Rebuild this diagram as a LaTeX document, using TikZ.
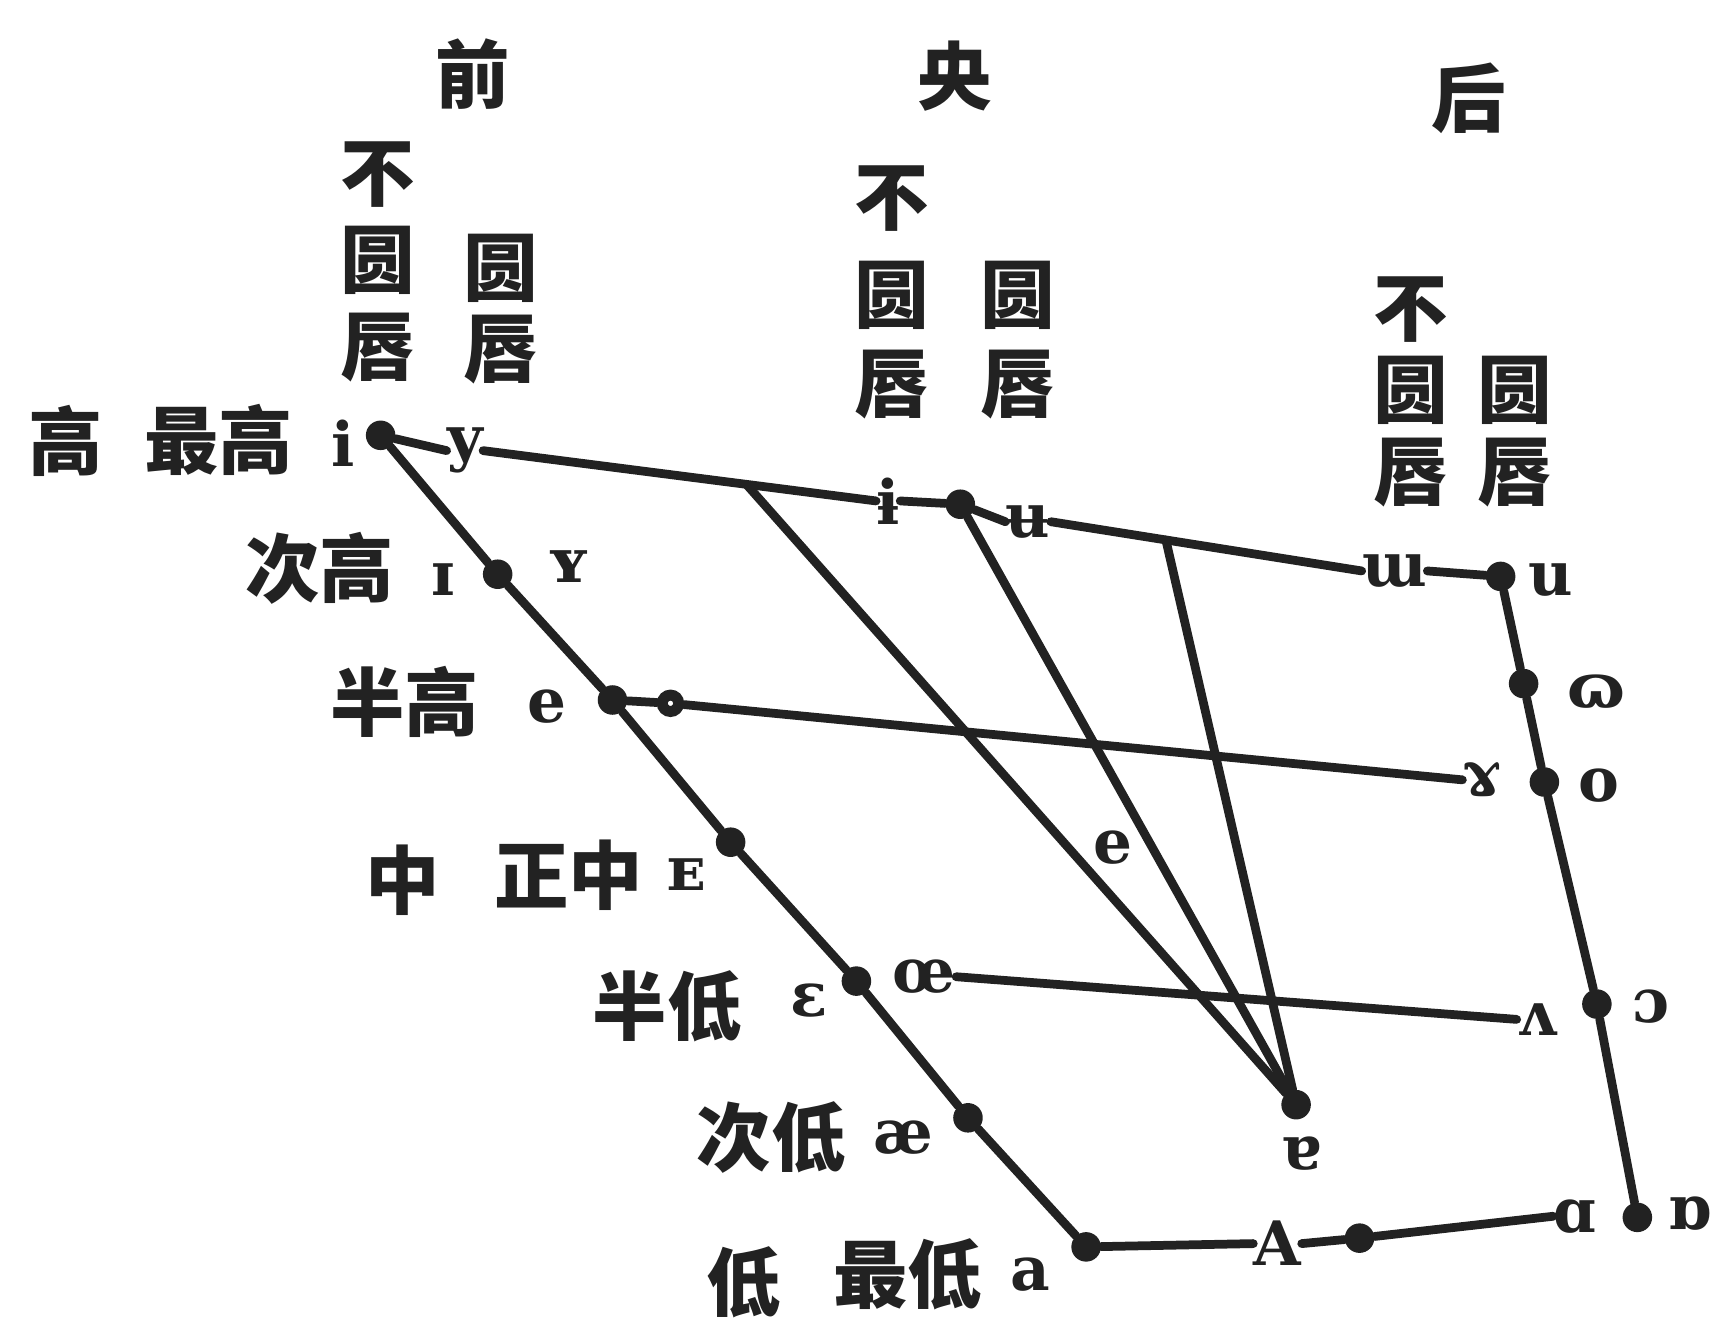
\documentclass[tikz,border=0pt]{standalone}
\usepackage{fontspec}
\newfontfamily\cjk{Noto Sans CJK SC}
\newfontfamily\ipa{DejaVu Serif}
\usetikzlibrary{calc}
\definecolor{ink}{HTML}{222222}
\begin{document}
\begin{tikzpicture}[x=0.5pt,y=-0.5pt,
  hd/.style={font=\cjk\bfseries\fontsize{34}{34}\selectfont, inner sep=0pt, text=ink},
  hz/.style={font=\cjk\bfseries\fontsize{34}{34}\selectfont, inner sep=0pt, text=ink},
  ip/.style={font=\ipa\bfseries\fontsize{28}{28}\selectfont, inner sep=0pt, text=ink},
  vdot/.style={circle, fill=ink, inner sep=0pt, minimum size=13.5pt},
  ring/.style={circle, draw=ink, line width=5pt, inner sep=0pt, minimum size=7.5pt},
  ln/.style={line width=4pt, draw=ink, line cap=round}]
\useasboundingbox (0,0) rectangle (1568,1210);
% headers
\node[hd] (hF) at (432,68) {前};
\node[hd] (hC) at (873,70) {央};
\node[hd] (hB) at (1343,90) {后};
% front lip columns
\node[hz] (f1) at (345,160) {不};
\node[hz] (f2) at (345,238) {圆};
\node[hz] (f3) at (345,318) {唇};
\node[hz] (f4) at (458,245) {圆};
\node[hz] (f5) at (458,320) {唇};
% central
\node[hz] (c1) at (815,182) {不};
\node[hz] (c2) at (815,270) {圆};
\node[hz] (c3) at (815,352) {唇};
\node[hz] (c4) at (930,270) {圆};
\node[hz] (c5) at (930,352) {唇};
% back
\node[hz] (b1) at (1290,283) {不};
\node[hz] (b2) at (1290,357) {圆};
\node[hz] (b3) at (1290,432) {唇};
\node[hz] (b4) at (1385,357) {圆};
\node[hz] (b5) at (1385,432) {唇};
% row labels
\node[hz] (r1) at (60,403) {高};
\node[hz] (r2) at (200,402) {最高};
\node[hz] (r3) at (292,520) {次高};
\node[hz] (r4) at (370,642) {半高};
\node[hz] (r5) at (368,805) {中};
\node[hz] (r6) at (520,800) {正中};
\node[hz] (r7) at (610,920) {半低};
\node[hz] (r8) at (705,1040) {次低};
\node[hz] (r9) at (680,1172) {低};
\node[hz] (r10) at (830,1165) {最低};
% front IPA labels
\node[ip] (li) at (314,405) {i};
\node[ip] (lI) at (405,530) {ɪ};
\node[ip] (lyy) at (520,518) {ʏ};
\node[ip] (le) at (500,646) {e};
\node[ip] (lE) at (628,800) {ᴇ};
\node[ip] (leps) at (740,915) {ɛ};
\node[ip] (lae) at (826,1040) {æ};
\node[ip] (la) at (942,1165) {a};
% dots
\node[vdot] (di) at (348,398) {};
\node[vdot] (dI) at (455,525) {};
\node[vdot] (de) at (560,640) {};
\node[ring] (doe) at (613,643) {};
\node[vdot] (dE) at (668,770) {};
\node[vdot] (deps) at (783,897) {};
\node[vdot] (dae) at (885,1022) {};
\node[vdot] (da) at (993,1140) {};
\node[vdot] (dA) at (1243,1132) {};
\node[vdot] (dtur) at (1185,1010) {};
\node[vdot] (dbi) at (878,461) {};
\node[vdot] (du) at (1372,527) {};
\node[vdot] (dups) at (1393,625) {};
\node[vdot] (do) at (1412,715) {};
\node[vdot] (dopen) at (1460,918) {};
\node[vdot] (dturna) at (1497,1113) {};
% other labels
\node[ip] (ly) at (425,412) {y};
\node[ip] (lbi) at (812,458) {ɨ};
\node[ip] (lbu) at (940,477) {ʉ};
\node[ip] (lm) at (1275,522) {ɯ};
\node[ip] (lu) at (1418,530) {u};
\node[ip] (lups) at (1460,632) {ɷ};
\node[ip] (lram) at (1355,713) {ɤ};
\node[ip] (lo) at (1462,718) {o};
\node[ip] (lv) at (1405,932) {ʌ};
\node[ip] (lopen) at (1510,920) {ɔ};
\node[ip] (loe) at (845,893) {œ};
\node[ip] (lscript) at (1440,1112) {ɑ};
\node[ip] (lturna) at (1545,1110) {ɒ};
\node[ip] (lA) at (1168,1137) {A};
\node[ip] (ltur) at (1190,1055) {ɐ};
\node[ip] (lschwa) at (1018,775) {e};
% junctions on top line
\coordinate (J1) at ($(ly.east)!0.67!(lbi.west)$);
\coordinate (J2) at ($(lbu.east)!0.37!(lm.west)$);
% lines
\draw[ln] (di) -- (dI) -- (de) -- (dE) -- (deps) -- (dae) -- (da);
\draw[ln] (du) -- (dups) -- (do) -- (dopen) -- (dturna);
\draw[ln] (di) -- (ly.west);
\draw[ln] (ly.east) -- (lbi.west);
\draw[ln] (lbi.east) -- (dbi) -- (lbu.west);
\draw[ln] (lbu.east) -- (lm.west);
\draw[ln] (lm.east) -- (du);
\draw[ln] (de) -- (doe) -- (lram.west);
\draw[ln] (loe.east) -- (lv.west);
\draw[ln] (da) -- (lA.west);
\draw[ln] (lA.east) -- (dA) -- (lscript.west);
\draw[ln] (J1) -- (dtur);
\draw[ln] (dbi) -- (dtur);
\draw[ln] (J2) -- (dtur);
\end{tikzpicture}
\end{document}
